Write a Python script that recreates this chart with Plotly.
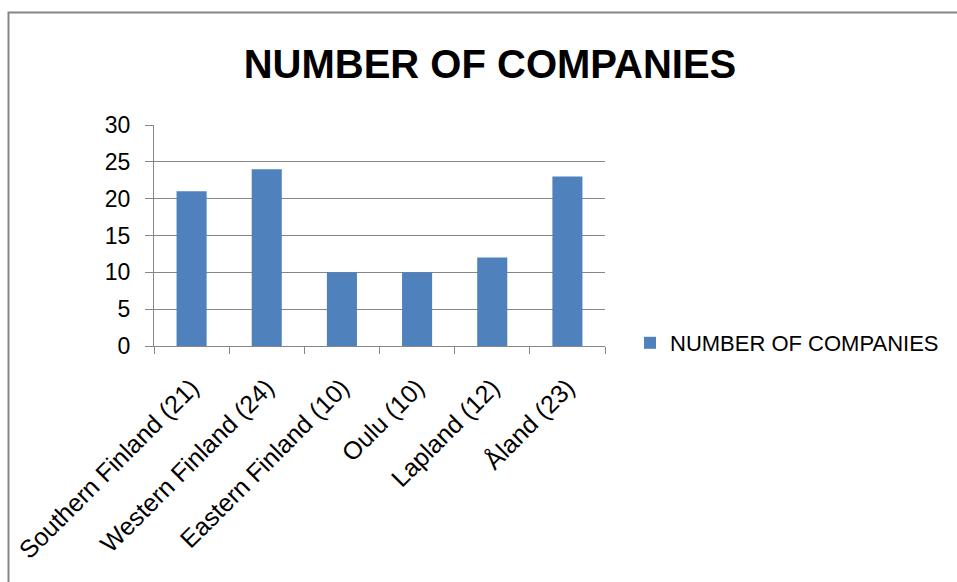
import plotly.graph_objects as go

categories = ["Southern Finland (21)", "Western Finland (24)", "Eastern Finland (10)",
              "Oulu (10)", "Lapland (12)", "Åland (23)"]
values = [21, 24, 10, 10, 12, 23]
series_name = "NUMBER OF COMPANIES"
title_text = "NUMBER OF COMPANIES"
y_ticks = [0, 5, 10, 15, 20, 25, 30]

W, H = 957, 582
L, R, T, B = 154, 605, 125, 346
pw, ph = R - L, B - T

def px(x):
    return (x - L) / pw

def py(y):
    return (B - y) / ph

grid = "#868686"
font_main = "Liberation Sans, Arial, sans-serif"

fig = go.Figure()
fig.add_trace(go.Bar(x=categories, y=values, name=series_name,
                     marker=dict(color="#4F81BD", line=dict(width=0)),
                     showlegend=True))

fig.update_layout(
    width=W, height=H,
    margin=dict(l=L, r=W - R, t=T, b=H - B, pad=0),
    paper_bgcolor="white", plot_bgcolor="white",
    bargap=0.6,
    title=dict(text="<b>" + title_text + "</b>", x=490 / W, xanchor="center",
               y=1 - 64 / H, yanchor="middle",
               font=dict(family="Liberation Sans, Arial, sans-serif",
                         size=40, color="black")),
    font=dict(family=font_main, size=23, color="black"),
    showlegend=True,
    legend=dict(x=px(630), xanchor="left", y=py(343), yanchor="middle",
                font=dict(size=22, color="black"), bgcolor="rgba(0,0,0,0)",
                itemwidth=30, tracegroupgap=0),
    xaxis=dict(type="category", tickangle=-45, tickson="boundaries",
               ticks="outside", ticklen=7, tickcolor=grid, tickwidth=1,
               showline=True, linecolor=grid, linewidth=1,
               showgrid=False, tickfont=dict(size=25), ticklabelstandoff=16,
               automargin=False),
    yaxis=dict(range=[0, 30], tickvals=y_ticks, ticks="outside", ticklen=8,
               tickcolor=grid, tickwidth=1, showline=True, linecolor=grid,
               linewidth=1, showgrid=True, gridcolor=grid, gridwidth=1,
               zeroline=False, tickfont=dict(size=23), ticklabelstandoff=10,
               automargin=False),
)

fig.add_shape(type="rect", xref="paper", yref="paper",
              x0=px(8.5), x1=px(962), y0=py(12.5), y1=py(600),
              line=dict(color="#868686", width=2), fillcolor="rgba(0,0,0,0)",
              layer="below")

fig.write_html("out.html")
